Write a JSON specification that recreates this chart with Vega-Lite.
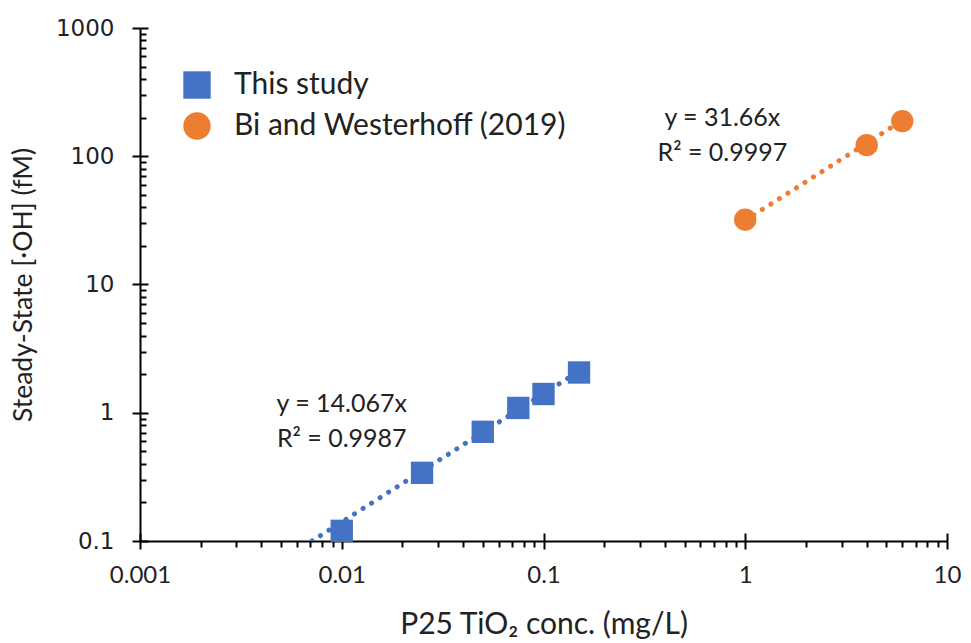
{
  "$schema": "https://vega.github.io/schema/vega-lite/v6.json",
  "width": 807,
  "height": 513,
  "autosize": "none",
  "padding": {"left": 140, "top": 28, "right": 24, "bottom": 102},
  "background": "white",
  "config": {"view": {"stroke": null}, "font": "Lato"},
  "datasets": {
    "pts": [
      {"series": "This study", "conc": 0.01, "oh": 0.12},
      {"series": "This study", "conc": 0.025, "oh": 0.34},
      {"series": "This study", "conc": 0.05, "oh": 0.71},
      {"series": "This study", "conc": 0.075, "oh": 1.09},
      {"series": "This study", "conc": 0.1, "oh": 1.4},
      {"series": "This study", "conc": 0.15, "oh": 2.06},
      {"series": "Bi and Westerhoff (2019)", "conc": 1, "oh": 32},
      {"series": "Bi and Westerhoff (2019)", "conc": 4, "oh": 122},
      {"series": "Bi and Westerhoff (2019)", "conc": 6, "oh": 188}
    ],
    "trend": [
      {"series": "This study", "conc": 0.00711, "oh": 0.1},
      {"series": "This study", "conc": 0.15, "oh": 2.11},
      {"series": "Bi and Westerhoff (2019)", "conc": 1, "oh": 31.66},
      {"series": "Bi and Westerhoff (2019)", "conc": 6, "oh": 189.96}
    ],
    "notes": [
      {"conc": 0.01, "oh": 1.17, "label": "y = 14.067x\nR² = 0.9987"},
      {"conc": 0.77, "oh": 200, "label": "y = 31.66x\nR² = 0.9997"}
    ]
  },
  "layer": [
    {
      "data": {"name": "trend"},
      "transform": [{"filter": "datum.series === 'This study'"}],
      "mark": {"type": "line", "color": "#4472C4", "strokeWidth": 5, "strokeDash": [0.1, 10], "strokeCap": "round", "clip": true},
      "encoding": {
        "x": {"field": "conc", "type": "quantitative", "scale": {"type": "log", "domain": [0.001, 10]},
          "axis": {"orient": "bottom", "values": [0.001, 0.01, 0.1, 1, 10], "tickSize": -8, "tickWidth": 2, "tickColor": "black", "labels": false, "domain": false, "title": null, "grid": false}},
        "y": {"field": "oh", "type": "quantitative", "scale": {"type": "log", "domain": [0.1, 1000]},
          "axis": {"orient": "left", "values": [0.1, 1, 10, 100, 1000], "tickSize": -8, "tickWidth": 2, "tickColor": "black", "labels": false, "domain": false, "title": null, "grid": false}}
      }
    },
    {
      "data": {"name": "trend"},
      "transform": [{"filter": "datum.series !== 'This study'"}],
      "mark": {"type": "line", "color": "#ED7D31", "strokeWidth": 5, "strokeDash": [0.1, 10], "strokeCap": "round", "clip": true},
      "encoding": {
        "x": {"field": "conc", "type": "quantitative", "axis": null},
        "y": {"field": "oh", "type": "quantitative", "axis": null}
      }
    },
    {
      "data": {"name": "pts"},
      "mark": {"type": "point", "filled": true, "opacity": 1, "size": 500},
      "encoding": {
        "x": {"field": "conc", "type": "quantitative",
          "axis": {"orient": "bottom", "grid": false,
            "values": [0.001, 0.002, 0.003, 0.004, 0.005, 0.006, 0.007, 0.008, 0.009, 0.01, 0.02, 0.03, 0.04, 0.05, 0.06, 0.07, 0.08, 0.09, 0.1, 0.2, 0.3, 0.4, 0.5, 0.6, 0.7, 0.8, 0.9, 1, 2, 3, 4, 5, 6, 7, 8, 9, 10],
            "labelExpr": "indexof([0.001, 0.01, 0.1, 1, 10], datum.value) >= 0 ? toString(datum.value) : ''",
            "tickSize": {"condition": {"test": "indexof([0.001, 0.01, 0.1, 1, 10], datum.value) >= 0", "value": 8}, "value": 6},
            "tickWidth": 2, "tickColor": "black", "domainColor": "black", "domainWidth": 2,
            "labelFont": "Lato", "labelFontSize": 24, "labelColor": "#222", "labelPadding": 14, "labelFlush": false,
            "title": "P25 TiO₂ conc. (mg/L)", "titleFont": "Lato", "titleFontSize": 30, "titleFontWeight": "normal", "titleColor": "#222", "titlePadding": 22}},
        "y": {"field": "oh", "type": "quantitative",
          "axis": {"orient": "left", "grid": false,
            "values": [0.1, 0.2, 0.3, 0.4, 0.5, 0.6, 0.7, 0.8, 0.9, 1, 2, 3, 4, 5, 6, 7, 8, 9, 10, 20, 30, 40, 50, 60, 70, 80, 90, 100, 200, 300, 400, 500, 600, 700, 800, 900, 1000],
            "labelExpr": "indexof([0.1, 1, 10, 100, 1000], datum.value) >= 0 ? toString(datum.value) : ''",
            "tickSize": {"condition": {"test": "indexof([0.1, 1, 10, 100, 1000], datum.value) >= 0", "value": 8}, "value": -6},
            "tickWidth": 2, "tickColor": "black", "domainColor": "black", "domainWidth": 2,
            "labelFont": "DejaVu Sans", "labelFontSize": 23, "labelColor": "#222", "labelPadding": 18, "labelFlush": false,
            "title": "Steady-State [·OH] (fM)", "titleFont": "Lato", "titleFontSize": 26.5, "titleFontWeight": "normal", "titleColor": "#222", "titlePadding": 18}},
        "color": {"field": "series", "type": "nominal",
          "scale": {"domain": ["This study", "Bi and Westerhoff (2019)"], "range": ["#4472C4", "#ED7D31"]},
          "legend": {"orient": "none", "legendX": 42, "legendY": 42, "title": null, "symbolSize": 750, "symbolOpacity": 1, "labelFont": "Lato", "labelFontSize": 30, "labelColor": "#222", "labelLimit": 500, "rowPadding": 11, "labelOffset": 22, "symbolStrokeWidth": 0}},
        "shape": {"field": "series", "type": "nominal",
          "scale": {"domain": ["This study", "Bi and Westerhoff (2019)"], "range": ["square", "circle"]}}
      }
    },
    {
      "data": {"name": "notes"},
      "mark": {"type": "text", "font": "Lato", "fontSize": 25, "color": "#222", "align": "center", "baseline": "middle", "lineBreak": "\n", "lineHeight": 35},
      "encoding": {
        "x": {"field": "conc", "type": "quantitative", "axis": null},
        "y": {"field": "oh", "type": "quantitative", "axis": null},
        "text": {"field": "label"}
      }
    }
  ],
  "resolve": {"axis": {"x": "independent", "y": "independent"}}
}
